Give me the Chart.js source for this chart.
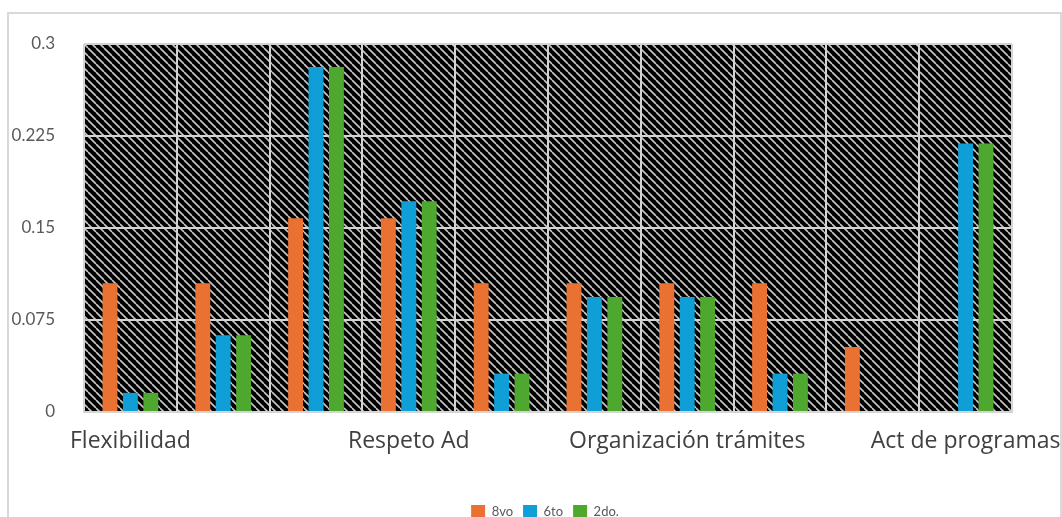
<!DOCTYPE html>
<html>
<head>
<meta charset="utf-8">
<script src="https://cdn.jsdelivr.net/npm/chart.js@4.4.1/dist/chart.umd.min.js"></script>
<style>
  body { margin: 0; background: #fff; overflow: hidden; }
  #frame { position: absolute; left: 7px; top: 12px; width: 1051px; height: 600px; border: 2px solid #d9d9d9; }
  #myChart { position: absolute; left: 0; top: 0; }
</style>
</head>
<body>
<div id="frame"></div>
<canvas id="myChart" width="1062" height="529"></canvas>
<script>
// categories (only every third name is printed on the axis in the original)
const categories = ['Flexibilidad', '', '', 'Respeto Ad', '', '', 'Organización trámites', '', '', 'Act de programas'];
const seriesNames = ['8vo', '6to', '2do.'];
const values8vo = [0.105, 0.105, 0.158, 0.158, 0.105, 0.105, 0.105, 0.105, 0.053, 0];
const values6to = [0.0156, 0.0625, 0.2813, 0.1719, 0.0313, 0.0938, 0.0938, 0.0313, 0, 0.2188];
const values2do = [0.0156, 0.0625, 0.2813, 0.1719, 0.0313, 0.0938, 0.0938, 0.0313, 0, 0.2188];
const yTicks = ['0', '0.075', '0.15', '0.225', '0.3'];

function makeHatch() {
    const c = document.createElement('canvas');
    c.width = 8;
    c.height = 8;
    const g = c.getContext('2d');
    g.fillStyle = '#000';
    g.fillRect(0, 0, 8, 8);
    g.strokeStyle = '#c8c8c8';
    g.lineWidth = 1.6;
    for (let o = -8; o <= 8; o += 8) {
        g.beginPath();
        g.moveTo(o, 0);
        g.lineTo(o + 8, 8);
        g.stroke();
    }
    return c;
}

const hatchBg = {
    id: 'hatchBg',
    afterLayout(chart) {
        // legend in the original sits a bit right of centre
        chart.legend.left += 33;
        chart.legend.right += 33;
    },
    beforeDraw(chart) {
        const a = chart.chartArea;
        const ctx = chart.ctx;
        ctx.save();
        ctx.fillStyle = ctx.createPattern(makeHatch(), 'repeat');
        ctx.fillRect(a.left, a.top, a.right - a.left, a.bottom - a.top);
        ctx.restore();
    }
};

const ctx = document.getElementById('myChart').getContext('2d');
const myChart = new Chart(ctx, {
    type: 'bar',
    data: {
        labels: categories,
        datasets: [
            { label: seriesNames[0], data: values8vo, backgroundColor: '#E97132' },
            { label: seriesNames[1], data: values6to, backgroundColor: '#0F9ED5' },
            { label: seriesNames[2], data: values2do, backgroundColor: '#4EA72E' }
        ]
    },
    plugins: [hatchBg],
    options: {
        responsive: false,
        animation: false,
        datasets: {
            bar: { categoryPercentage: 0.66, barPercentage: 0.73 }
        },
        layout: {
            autoPadding: false,
            padding: { left: 12, right: 50, top: 44, bottom: 0 }
        },
        plugins: {
            legend: {
                position: 'bottom',
                labels: {
                    boxWidth: 14,
                    boxHeight: 14,
                    padding: 10,
                    color: '#595959',
                    font: { family: 'Lato', size: 13 }
                }
            },
            tooltip: { enabled: false }
        },
        scales: {
            x: {
                grid: { color: '#d4d4d4', lineWidth: 2, drawTicks: false },
                border: { color: '#d4d4d4', width: 2 },
                ticks: {
                    autoSkip: false,
                    maxRotation: 0,
                    padding: 16,
                    color: '#404040',
                    font: { family: 'Open Sans', size: 23 }
                },
                afterFit: function(scale) {
                    scale.height = 83;
                    scale.paddingLeft = 0;
                    scale.paddingRight = 0;
                }
            },
            y: {
                min: 0,
                max: 0.3,
                grid: { color: '#d4d4d4', lineWidth: 2, drawTicks: false },
                border: { display: false },
                ticks: {
                    stepSize: 0.075,
                    padding: 29,
                    color: '#595959',
                    font: { family: 'Lato', size: 17 },
                    callback: function(v, i) { return yTicks[i]; }
                },
                afterFit: function(scale) { scale.width = 72; }
            }
        }
    }
});
</script>
</body>
</html>
